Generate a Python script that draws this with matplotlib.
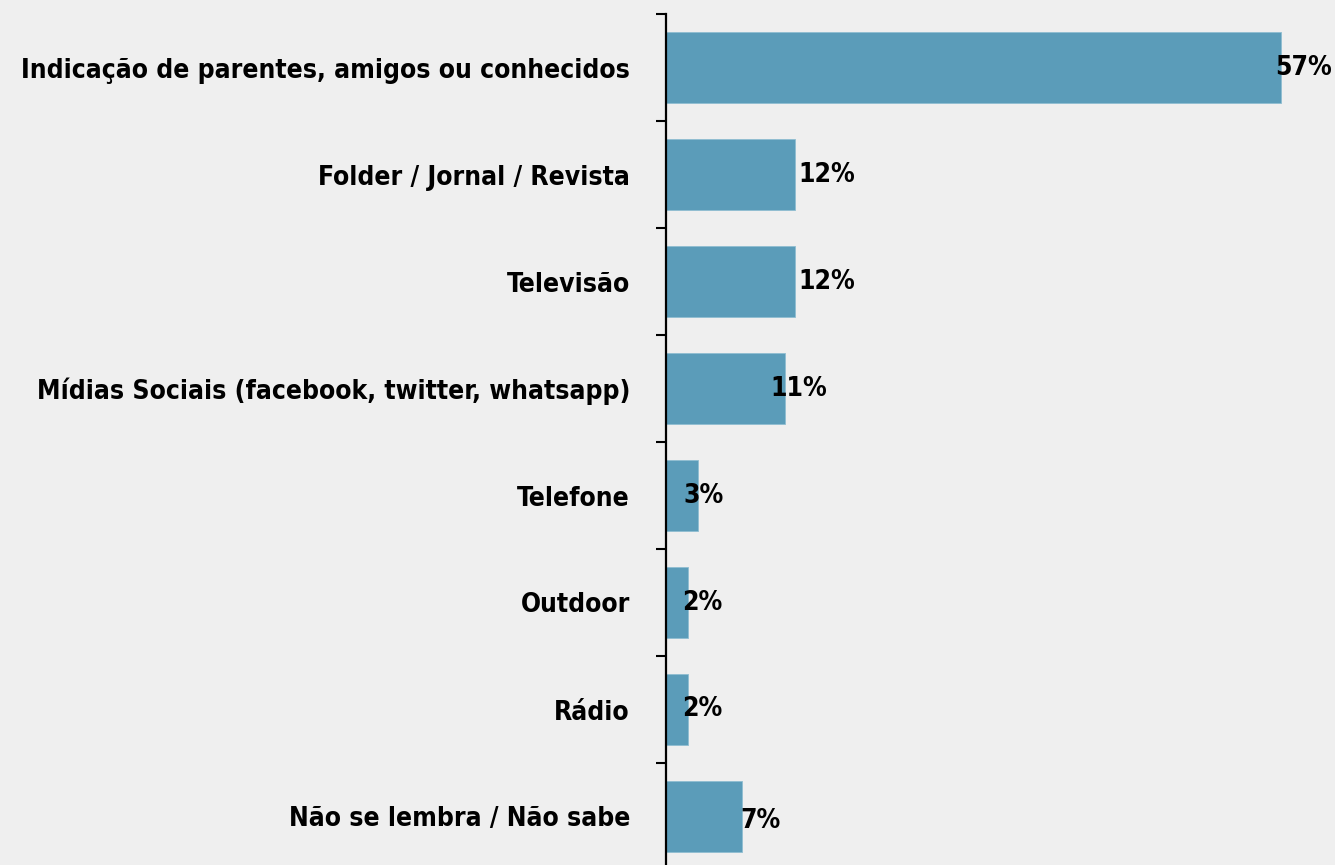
import matplotlib
matplotlib.use("Agg")
import matplotlib.pyplot as plt

categories = [
    "Indicação de parentes, amigos ou conhecidos",
    "Folder / Jornal / Revista",
    "Televisão",
    "Mídias Sociais (facebook, twitter, whatsapp)",
    "Telefone",
    "Outdoor",
    "Rádio",
    "Não se lembra / Não sabe",
]
values = [57, 12, 12, 11, 3, 2, 2, 7]
value_labels = ["57%", "12%", "12%", "11%", "3%", "2%", "2%", "7%"]
# nudges (px) of the value labels, as placed in the original slide
label_dx = [-6, 3, 3, -14, -15, -5, -5, -1]
label_dy = [0, 0, 0, 0, 0, 0, 0, -5]

bar_color = "#5b9cb9"
bg_color = "#efefef"
font = dict(family="DejaVu Sans", stretch="condensed", weight="bold")

fig = plt.figure(figsize=(13.35, 8.65), dpi=100)
fig.patch.set_facecolor(bg_color)
ax = fig.add_axes([666 / 1335, -5 / 865, 669 / 1335, 856 / 865])
ax.set_facecolor(bg_color)

ypos = list(range(len(categories)))
bars = ax.barh(ypos, values, height=0.66, color=bar_color, edgecolor="#8fbdd1", linewidth=0.6)

ax.set_xlim(0, 62)
ax.set_ylim(7.5, -0.5)

# labels at the category centres, ticks at the boundaries
ax.set_yticks(ypos)
ax.set_yticklabels(categories, fontsize=19, **font)
ax.tick_params(axis="y", which="major", length=0, pad=26)
ax.set_yticks([k - 0.5 for k in range(len(categories))], minor=True)
ax.tick_params(axis="y", which="minor", length=7.5, width=1.5, direction="out")
ax.set_xticks([])

for side in ["top", "right", "bottom"]:
    ax.spines[side].set_visible(False)
ax.spines["left"].set_linewidth(1.6)

for bar, lab, dx, dy in zip(bars, value_labels, label_dx, label_dy):
    ax.annotate(lab, (bar.get_width(), bar.get_y() + bar.get_height() / 2),
                xytext=(dx * 0.72, dy * 0.72), textcoords="offset points",
                ha="left", va="center", fontsize=19, **font)

fig.savefig("out.png", dpi=100, facecolor=bg_color)
